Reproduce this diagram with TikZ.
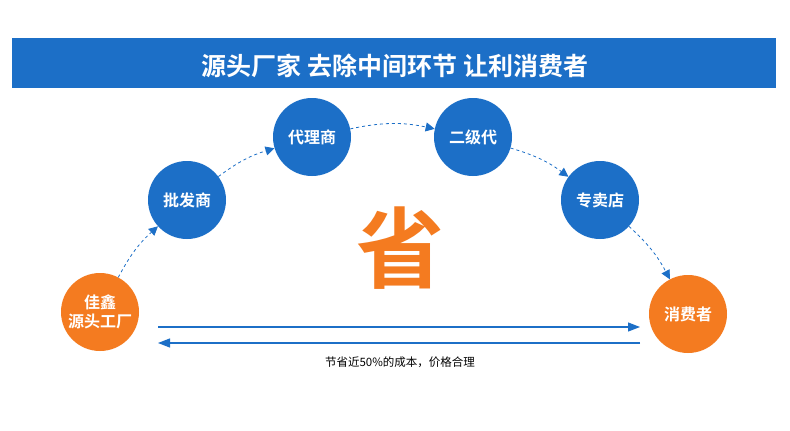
\documentclass[tikz,border=0pt]{standalone}
\usepackage{fontspec}
\setmainfont{Noto Sans CJK SC}
\newfontfamily\cjkb{Noto Sans CJK SC Bold}
\usetikzlibrary{arrows.meta}
\definecolor{bl}{HTML}{1C6FC7}
\definecolor{org}{HTML}{F47B20}
\tikzset{
 circ/.style={circle,fill=#1,minimum size=78pt,inner sep=0pt,text=white,font=\cjkb\fontsize{16}{19}\selectfont,align=center},
 dsh/.style={bl,dashed,line width=0.8pt,-{Triangle[length=9pt,width=9pt]}},
 sol/.style={bl,line width=1.2pt,-{Triangle[length=12pt,width=9pt]}}
}
\begin{document}
\begin{tikzpicture}[x=1pt,y=-1pt]
\useasboundingbox (0,0) rectangle (790,431);
\fill[white] (0,0) rectangle (790,431);
\fill[bl] (12,38) rectangle (776,88);
\node[text=white,font=\cjkb\fontsize{25}{28}\selectfont] (title) at (395,66) {源头厂家 去除中间环节 让利消费者};
\node[circ=org] (a) at (100,312) {佳鑫\\源头工厂};
\node[circ=bl] (b) at (187,200) {批发商};
\node[circ=bl] (c) at (312,137) {代理商};
\node[circ=bl] (d) at (473,137) {二级代};
\node[circ=bl] (e) at (600,200) {专卖店};
\node[circ=org] (f) at (688,314) {消费者};
\node[text=org,font=\cjkb\fontsize{88}{90}\selectfont] (s) at (400,248) {省};
\draw[dsh] (a) to[bend left=10] (b);
\draw[dsh] (b) to[bend left=10] (c);
\draw[dsh] (c) to[bend left=12] (d);
\draw[dsh] (d) to[bend left=10] (e);
\draw[dsh] (e) to[bend left=10] (f);
\coordinate (r1) at (158,327);
\coordinate (r2) at (640,327);
\coordinate (l1) at (640,343);
\coordinate (l2) at (158,343);
\draw[sol] (r1) -- (r2);
\draw[sol] (l1) -- (l2);
\node[font=\fontsize{11.5}{13}\selectfont] (t) at (400,362) {节省近50\%的成本，价格合理};
\end{tikzpicture}
\end{document}
